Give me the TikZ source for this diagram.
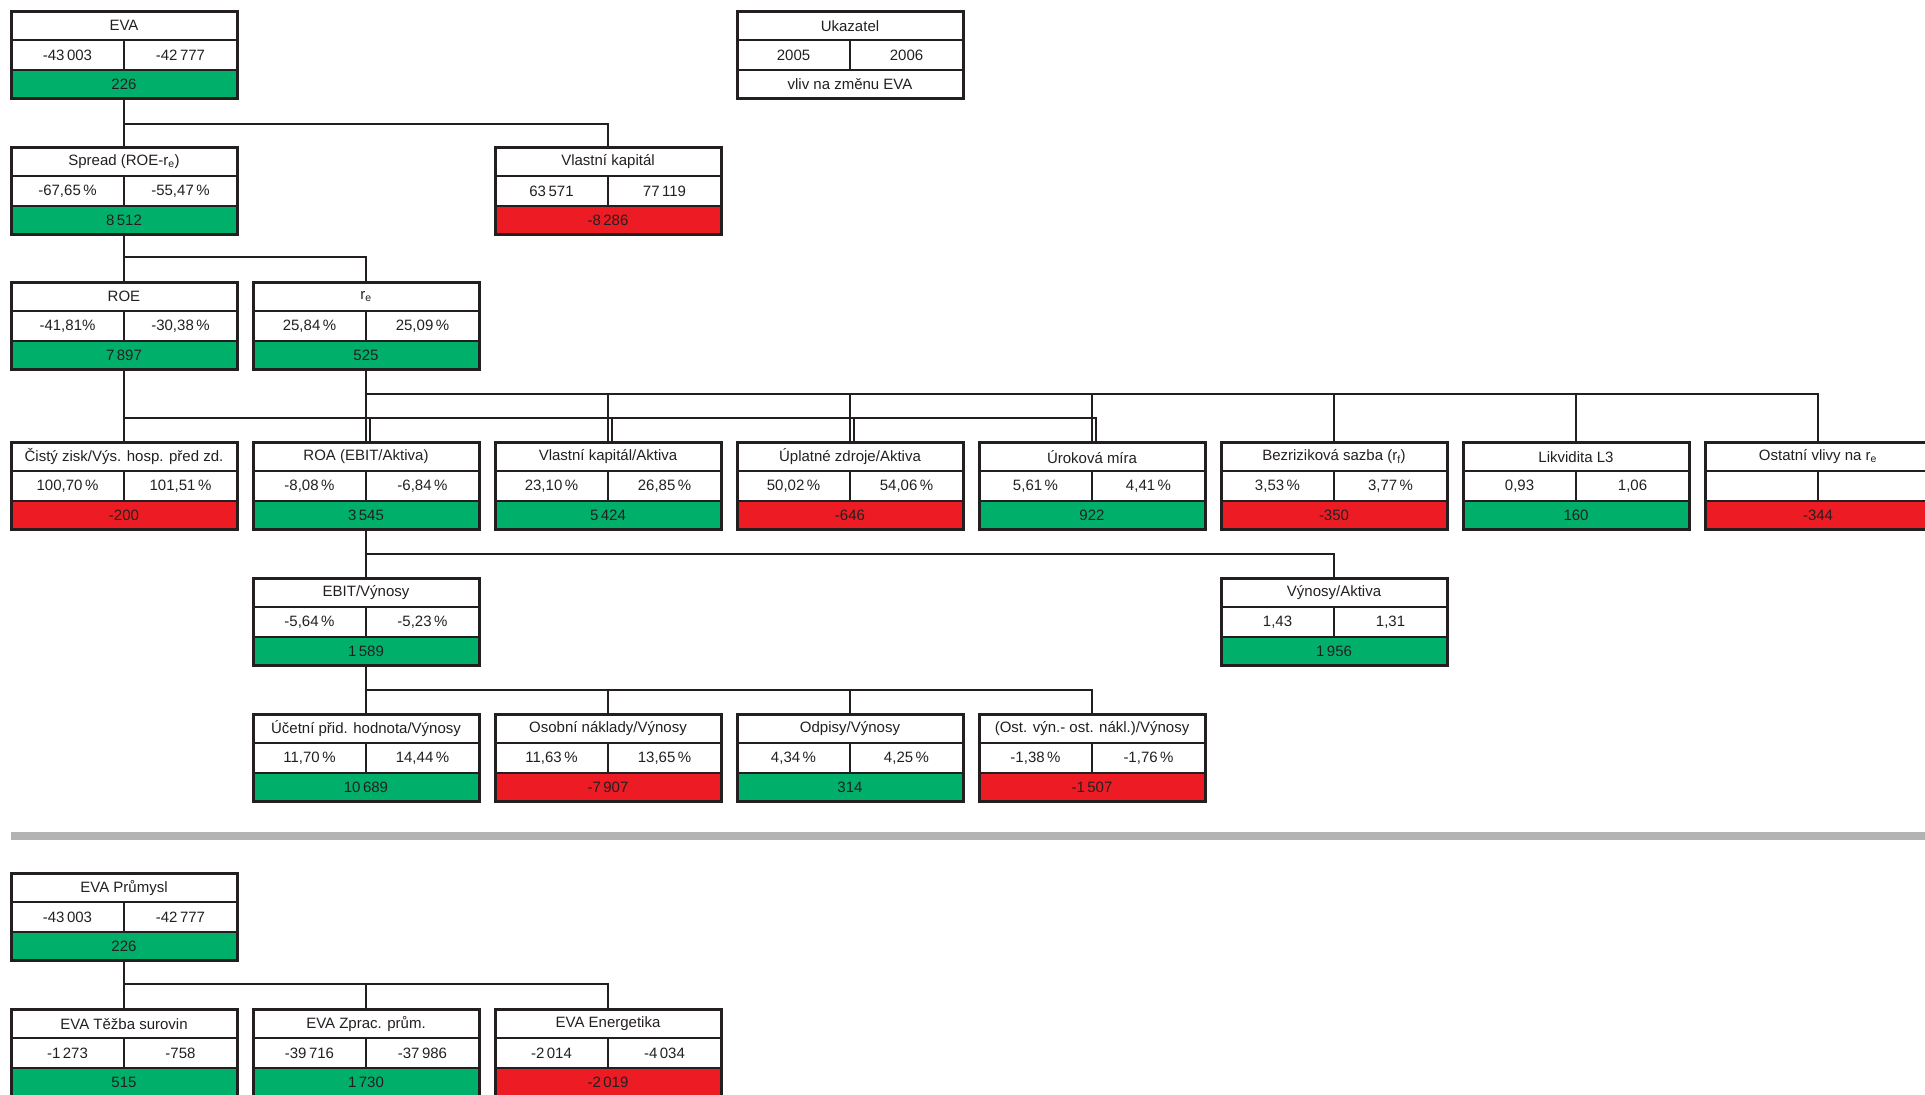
\documentclass[tikz,border=0pt]{standalone}
\usepackage{fontspec}
\setmainfont{Liberation Sans}
\usepackage{xcolor}
\usepackage{tikz}
\usetikzlibrary{calc}
\definecolor{good}{HTML}{00B06A}
\definecolor{bad}{HTML}{ED1C24}
\definecolor{ink}{HTML}{231F20}
\definecolor{rulegray}{HTML}{B3B3B3}

% one indicator box: name, top-left, title, 2005, 2006, change, fill
\newcommand{\kpibox}[7]{%
  \node[head, anchor=north west] (#1) at (#2) {#3};
  \node[val, anchor=north west] (#1-a) at (#1.south west) {#4};
  \node[val, anchor=north east] (#1-b) at (#1.south east) {#5};
  \node[res, fill=#7, anchor=north west] (#1-r) at (#1-a.south west) {#6};
  \draw[frame] (#1.north west) rectangle (#1-r.south east);
}

\begin{document}
\begin{tikzpicture}[x=1pt, y=1pt,
    cell/.style={rectangle, draw=ink, line width=1.8pt, inner sep=0pt, outer sep=0pt, minimum height=29.3pt, text=ink, font=\fontsize{15}{17}\selectfont},
    head/.style={cell, minimum width=226pt},
    val/.style={cell, minimum width=113pt},
    res/.style={cell, minimum width=226pt},
    frame/.style={draw=ink, line width=3pt},
    link/.style={-, draw=ink, line width=2pt}
]
    \useasboundingbox (0,0) rectangle (1925,-1095);
    \clip (0,0) rectangle (1925,-1095);

    % upper tree
    \kpibox{eva}{11,-11}{EVA}{-43\,003}{-42\,777}{226}{good}
    \kpibox{ukaz}{737,-11}{Ukazatel}{2005}{2006}{vliv na změnu EVA}{white}
    \kpibox{spread}{11,-147}{Spread (ROE-r\textsubscript{e})}{-67,65\,\%}{-55,47\,\%}{8\,512}{good}
    \kpibox{vk}{495,-147}{Vlastní kapitál}{63\,571}{77\,119}{-8\,286}{bad}
    \kpibox{roe}{11,-282}{ROE}{-41,81\%}{-30,38\,\%}{7\,897}{good}
    \kpibox{re}{253,-282}{r\textsubscript{e}}{25,84\,\%}{25,09\,\%}{525}{good}

    \kpibox{cis}{11,-442}{Čistý zisk/Výs. hosp. před zd.}{100,70\,\%}{101,51\,\%}{-200}{bad}
    \kpibox{roa}{253,-442}{ROA (EBIT/Aktiva)}{-8,08\,\%}{-6,84\,\%}{3\,545}{good}
    \kpibox{vka}{495,-442}{Vlastní kapitál/Aktiva}{23,10\,\%}{26,85\,\%}{5\,424}{good}
    \kpibox{upl}{737,-442}{Úplatné zdroje/Aktiva}{50,02\,\%}{54,06\,\%}{-646}{bad}
    \kpibox{uro}{979,-442}{Úroková míra}{5,61\,\%}{4,41\,\%}{922}{good}
    \kpibox{bez}{1221,-442}{Bezriziková sazba (r\textsubscript{f})}{3,53\,\%}{3,77\,\%}{-350}{bad}
    \kpibox{lik}{1463,-442}{Likvidita L3}{0,93}{1,06}{160}{good}
    \kpibox{ost}{1705,-442}{Ostatní vlivy na r\textsubscript{e}}{}{}{-344}{bad}

    \kpibox{ebit}{253,-578}{EBIT/Výnosy}{-5,64\,\%}{-5,23\,\%}{1\,589}{good}
    \kpibox{vyn}{1221,-578}{Výnosy/Aktiva}{1,43}{1,31}{1\,956}{good}

    \kpibox{ucp}{253,-714}{Účetní přid. hodnota/Výnosy}{11,70\,\%}{14,44\,\%}{10\,689}{good}
    \kpibox{oso}{495,-714}{Osobní náklady/Výnosy}{11,63\,\%}{13,65\,\%}{-7\,907}{bad}
    \kpibox{odp}{737,-714}{Odpisy/Výnosy}{4,34\,\%}{4,25\,\%}{314}{good}
    \kpibox{ovn}{979,-714}{(Ost. výn.- ost. nákl.)/Výnosy}{-1,38\,\%}{-1,76\,\%}{-1\,507}{bad}

    \draw[link] (eva-r.south) -- ++(0,-25) coordinate (evabus);
    \foreach \n in {spread,vk} \draw[link] (\n.north) |- (evabus);
    \draw[link] (spread-r.south) -- ++(0,-22) coordinate (spbus);
    \foreach \n in {roe,re} \draw[link] (\n.north) |- (spbus);

    \draw[link] (re-r.south) -- (roa.north);
    \coordinate (rebus) at ($(re-r.south)+(0,-24)$);
    \foreach \n in {vka,upl,uro,bez,lik,ost} \draw[link] (\n.north) |- (rebus);
    \draw[link] (roe-r.south) -- (cis.north);
    \coordinate (roebus) at ($(roe-r.south)+(0,-48)$);
    \foreach \n in {roa,vka,upl,uro} \draw[link] ([xshift=4pt]\n.north) |- (roebus);

    \draw[link] (roa-r.south) -- (ebit.north);
    \coordinate (roabus) at ($(roa-r.south)+(0,-24)$);
    \draw[link] (vyn.north) |- (roabus);
    \coordinate (ebitbus) at ($(ebit-r.south)+(0,-24)$);
    \draw[link] (ebit-r.south) -- (ebitbus);
    \foreach \n in {ucp,oso,odp,ovn} \draw[link] (\n.north) |- (ebitbus);

    % separator
    \fill[rulegray] (11,-832) rectangle (1925,-840);

    % lower tree
    \kpibox{prum}{11,-873}{EVA Průmysl}{-43\,003}{-42\,777}{226}{good}
    \kpibox{tez}{11,-1009}{EVA Těžba surovin}{-1\,273}{-758}{515}{good}
    \kpibox{zpr}{253,-1009}{EVA Zprac. prům.}{-39\,716}{-37\,986}{1\,730}{good}
    \kpibox{ene}{495,-1009}{EVA Energetika}{-2\,014}{-4\,034}{-2\,019}{bad}

    \draw[link] (prum-r.south) -- ++(0,-23) coordinate (prumbus);
    \foreach \n in {tez,zpr,ene} \draw[link] (\n.north) |- (prumbus);
\end{tikzpicture}
\end{document}
